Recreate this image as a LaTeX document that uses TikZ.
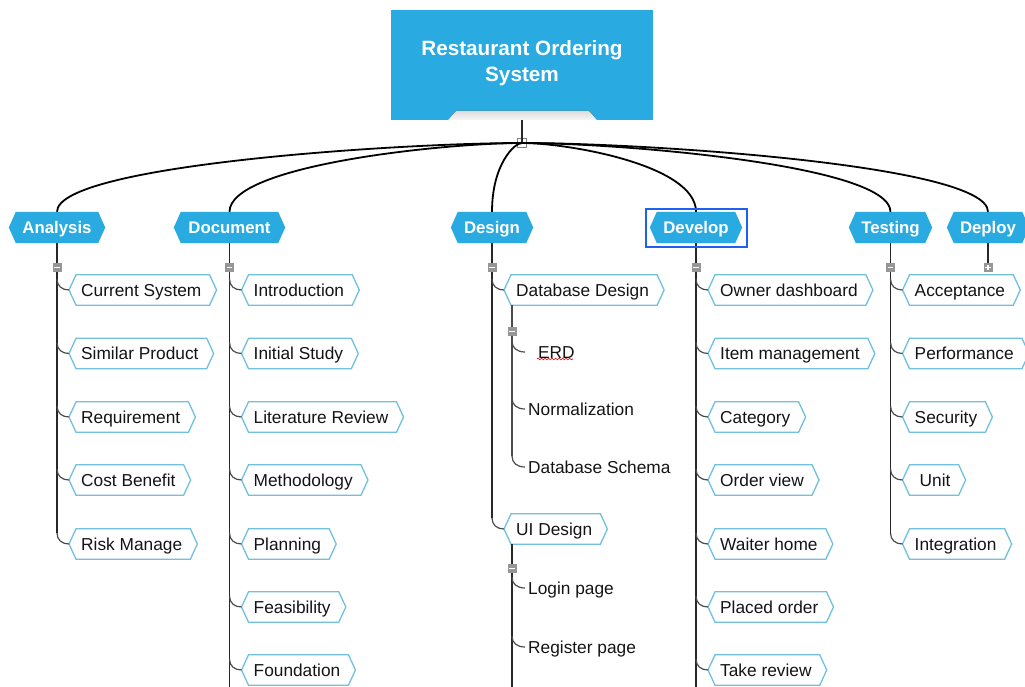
\documentclass[tikz,border=0pt]{standalone}
\usepackage{fontspec}
\setmainfont{Liberation Sans}
\usetikzlibrary{calc,backgrounds,decorations.pathmorphing}
\definecolor{mmblue}{RGB}{41,171,226}
\definecolor{childedge}{RGB}{112,192,222}
\definecolor{selblue}{RGB}{32,96,240}
\definecolor{mkgray}{RGB}{150,150,150}
\definecolor{txtcol}{RGB}{20,20,20}
\definecolor{linedark}{RGB}{40,40,40}
\definecolor{linemid}{RGB}{75,75,75}
\tikzset{
  rootbox/.style={fill=mmblue, draw=none, minimum width=262, minimum height=110, inner sep=0},
  roottext/.style={inner sep=0, text=white, align=center, font=\fontsize{20.7}{26}\selectfont\bfseries},
  roottab/.style={top color=gray!28, bottom color=gray!6, draw=none},
  branchbox/.style={inner xsep=0, inner ysep=0, minimum height=31, text height=12, text depth=0, text=white, font=\fontsize{16.8}{20}\selectfont\bfseries},
  branchhex/.style={fill=mmblue},
  childbox/.style={inner xsep=12, inner ysep=0, minimum height=30, text height=12.4, text depth=0, text=txtcol, font=\fontsize{17.3}{20}\selectfont, execute at end node={\hspace{3pt}}},
  childhex/.style={fill=white, draw=childedge, line width=1.3},
  leafbox/.style={inner xsep=3, inner ysep=0, minimum height=24, text height=12.4, text depth=0, text=txtcol, font=\fontsize{17.3}{20}\selectfont},
  maincurve/.style={line width=1.8, draw=black},
  vline/.style={line width=1.8, draw=linedark},
  subline/.style={line width=1.5, draw=linemid},
  hookline/.style={line width=1.2, draw=linemid},
  mkbase/.style={fill=mkgray, draw=none, minimum size=9, inner sep=0},
  mkminus/.style={mkbase, path picture={\draw[white,line width=1.2] ($(path picture bounding box.center)+(-2.6,0)$) -- ($(path picture bounding box.center)+(2.6,0)$);}},
  mkplus/.style={mkbase, path picture={\draw[white,line width=1.2] ($(path picture bounding box.center)+(-2.6,0)$) -- ($(path picture bounding box.center)+(2.6,0)$) ($(path picture bounding box.center)+(0,-2.6)$) -- ($(path picture bounding box.center)+(0,2.6)$);}},
  rootmk/.style={fill=white, draw=gray, line width=0.8, minimum size=9, inner sep=0, path picture={\draw[gray!80!black,line width=0.9] ($(path picture bounding box.center)+(-2,0)$) -- ($(path picture bounding box.center)+(2,0)$);}},
  selframe/.style={draw=selblue, line width=2},
  spell/.style={draw=red!85!black, line width=0.6, decorate, decoration={snake, amplitude=0.9, segment length=3.5}}
}
\newcommand\hexbg[2]{\begin{pgfonlayer}{background}\path[#1] (#2.west) -- ($(#2.north west)+(7,0)$) -- ($(#2.north east)+(-7,0)$) -- (#2.east) -- ($(#2.south east)+(-7,0)$) -- ($(#2.south west)+(7,0)$) -- cycle;\end{pgfonlayer}}
\newcommand\mmchild[4]{\node[childbox, anchor=west] (#1) at (#2,#3) {#4};\hexbg{childhex}{#1}}
\newcommand\mmbranch[4]{\node[branchbox, minimum width=#3] (#1) at (#2,227.5) {#4};\hexbg{branchhex}{#1}}
\newcommand\mmhook[2][12]{\draw[hookline] ($(#2.west)+(-#1,-11)$) .. controls ($(#2.west)+(-#1,-4)$) and ($(#2.west)+(-#1+5,0)$) .. (#2.west);}
\newcommand\mmcurve[1]{\draw[maincurve] (rm.center) .. controls ($(rm.center)!0.26!(#1.north |- rm.center)$) and ($(#1.north)+(0,-47)$) .. (#1.north);}
\begin{document}
\begin{tikzpicture}[x=1pt,y=-1pt]
\useasboundingbox (0,0) rectangle (1025,687);
% root
\node[rootbox] (root) at (522,65) {};
\node[roottext] (roottxt) at (522,63) {Restaurant Ordering\\System};
\fill[roottab] (456,111) -- (589,111) -- (597,120) -- (448,120) -- cycle;
\node[rootmk] (rm) at (522,143) {};
% branches
\mmbranch{An}{57}{96}{Analysis}
\mmbranch{Doc}{229.5}{111}{Document}
\mmbranch{Des}{492}{82}{Design}
\mmbranch{Dev}{696}{92}{Develop}
\mmbranch{Tst}{890.5}{83}{Testing}
\mmbranch{Dep}{988}{82}{Deploy}
% Analysis children
\mmchild{an1}{69}{290}{Current System}
\mmchild{an2}{69}{353.5}{Similar Product}
\mmchild{an3}{69}{417}{Requirement}
\mmchild{an4}{69}{480}{Cost Benefit}
\mmchild{an5}{69}{544}{Risk Manage}
% Document children
\mmchild{do1}{241.5}{290}{Introduction}
\mmchild{do2}{241.5}{353.5}{Initial Study}
\mmchild{do3}{241.5}{417}{Literature Review}
\mmchild{do4}{241.5}{480}{Methodology}
\mmchild{do5}{241.5}{544}{Planning}
\mmchild{do6}{241.5}{607}{Feasibility}
\mmchild{do7}{241.5}{670}{Foundation}
% Design children
\mmchild{DD}{504}{290}{Database Design}
\node[leafbox, anchor=west] (erd) at (525,352) {\hspace{10pt}ERD};
\node[leafbox, anchor=west] (nor) at (525,409) {Normalization};
\node[leafbox, anchor=west] (dbs) at (525,467) {Database Schema};
\mmchild{UI}{504}{529}{UI Design}
\node[leafbox, anchor=west] (lp) at (525,588) {Login page};
\node[leafbox, anchor=west] (rp) at (525,647) {Register page};
% Develop children
\mmchild{de1}{708}{290}{Owner dashboard}
\mmchild{de2}{708}{353.5}{Item management}
\mmchild{de3}{708}{417}{Category}
\mmchild{de4}{708}{480}{Order view}
\mmchild{de5}{708}{544}{Waiter home}
\mmchild{de6}{708}{607}{Placed order}
\mmchild{de7}{708}{670}{Take review}
% Testing children
\mmchild{te1}{902.5}{290}{Acceptance}
\mmchild{te2}{902.5}{353.5}{Performance}
\mmchild{te3}{902.5}{417}{Security}
\mmchild{te4}{902.5}{480}{\hspace{5pt}Unit\hspace{4pt}}
\mmchild{te5}{902.5}{544}{Integration}
% root connectors
\draw[vline] (root.south) -- (rm.center);
\mmcurve{An}
\mmcurve{Doc}
\mmcurve{Des}
\mmcurve{Dev}
\mmcurve{Tst}
\mmcurve{Dep}
% branch vertical lines
\draw[vline] (An.south) -- ($(An.south |- an5.west)+(0,-11)$);
\draw[vline] (Doc.south) -- ($(Doc.south |- do7.west)+(0,30)$);
\draw[vline] (Des.south) -- ($(Des.south |- UI.west)+(0,-11)$);
\draw[vline] (Dev.south) -- ($(Dev.south |- de7.west)+(0,30)$);
\draw[vline] (Tst.south) -- ($(Tst.south |- te5.west)+(0,-11)$);
\node[mkplus] (mDep) at ($(Dep.south)+(0,24)$) {};
\draw[vline] (Dep.south) -- (mDep.north);
% sub lines
\coordinate (ddl) at ($(DD.south west)+(8,0)$);
\draw[subline] (ddl) -- ($(ddl |- dbs.west)+(0,-11)$);
\coordinate (uil) at ($(UI.south west)+(8,0)$);
\draw[vline] (uil) -- ($(uil |- rp.west)+(0,45)$);
% hooks
\foreach \c in {an1,an2,an3,an4,an5,do1,do2,do3,do4,do5,do6,do7,DD,UI,de1,de2,de3,de4,de5,de6,de7,te1,te2,te3,te4,te5}{\mmhook{\c}}
\foreach \c in {erd,nor,dbs,lp,rp}{\mmhook[13]{\c}}
% collapse markers
\node[mkminus] (mAn) at ($(An.south)+(0,24)$) {};
\node[mkminus] (mDoc) at ($(Doc.south)+(0,24)$) {};
\node[mkminus] (mDes) at ($(Des.south)+(0,24)$) {};
\node[mkminus] (mDev) at ($(Dev.south)+(0,24)$) {};
\node[mkminus] (mTst) at ($(Tst.south)+(0,24)$) {};
\node[mkminus] (mDD) at ($(ddl)+(0,26)$) {};
\node[mkminus] (mUI) at ($(uil)+(0,24)$) {};
% selection frame and spelling mark
\draw[selframe] (646,209) rectangle (747,247);
\draw[spell] (537,359) -- (573,359);
\end{tikzpicture}
\end{document}
